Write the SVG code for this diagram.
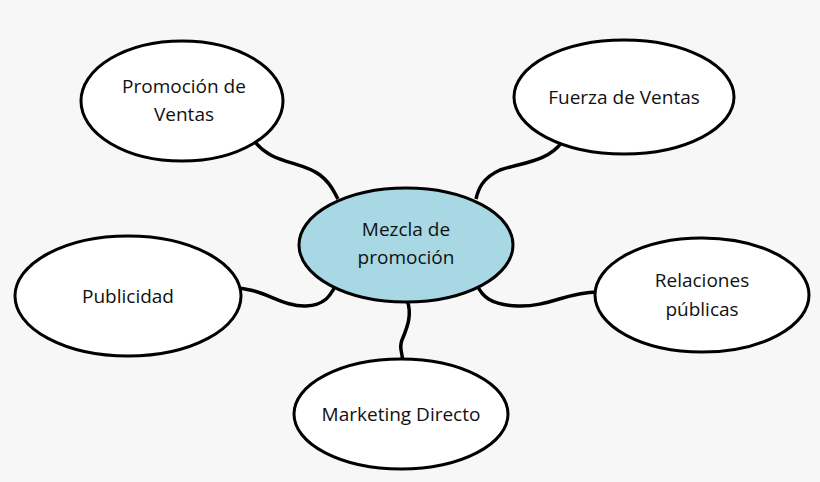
<svg xmlns="http://www.w3.org/2000/svg" width="820" height="482" viewBox="0 0 820 482">
<style>
.n{fill:#fff;stroke:#000;stroke-width:3}
.c{fill:#a8d8e4;stroke:#000;stroke-width:3}
.t{font-family:"Open Sans",sans-serif;font-size:19px;text-anchor:middle;fill:#111}
.l{fill:none;stroke:#000;stroke-width:3.5}
</style>
<rect width="820" height="482" fill="#f7f7f7"/>
<g id="connectors">
<path class="l" d="M252,138 C270,165 300,160 320,175 C333,185 334,193 338,199"/>
<path class="l" d="M562,142 C548,162 520,163 500,170 C482,178 478,190 476,199"/>
<path class="l" d="M228,288 C262,286 280,307 306,306 C325,305 330,296 336,285"/>
<path class="l" d="M597,292 C568,292 548,307 518,306 C490,305 482,296 477,285"/>
<path class="l" d="M407,300 C413,316 406,330 402,340 C398,350 404,354 402,361"/>
</g>
<g id="center"><ellipse class="c" cx="406" cy="245" rx="107" ry="57"/><text class="t" x="406" y="236">Mezcla de</text><text class="t" x="406" y="264">promoción</text></g>
<g id="promocion"><ellipse class="n" cx="182" cy="101" rx="101" ry="60"/><text class="t" x="184" y="93">Promoción de</text><text class="t" x="184" y="121">Ventas</text></g>
<g id="fuerza"><ellipse class="n" cx="624" cy="97" rx="110" ry="57"/><text class="t" x="624" y="104">Fuerza de Ventas</text></g>
<g id="publicidad"><ellipse class="n" cx="128" cy="296" rx="113" ry="60"/><text class="t" x="128" y="303">Publicidad</text></g>
<g id="relaciones"><ellipse class="n" cx="702" cy="295" rx="107" ry="57"/><text class="t" x="702" y="287">Relaciones</text><text class="t" x="702" y="316">públicas</text></g>
<g id="marketing"><ellipse class="n" cx="401" cy="414" rx="107" ry="55"/><text class="t" x="401" y="421">Marketing Directo</text></g>
</svg>
